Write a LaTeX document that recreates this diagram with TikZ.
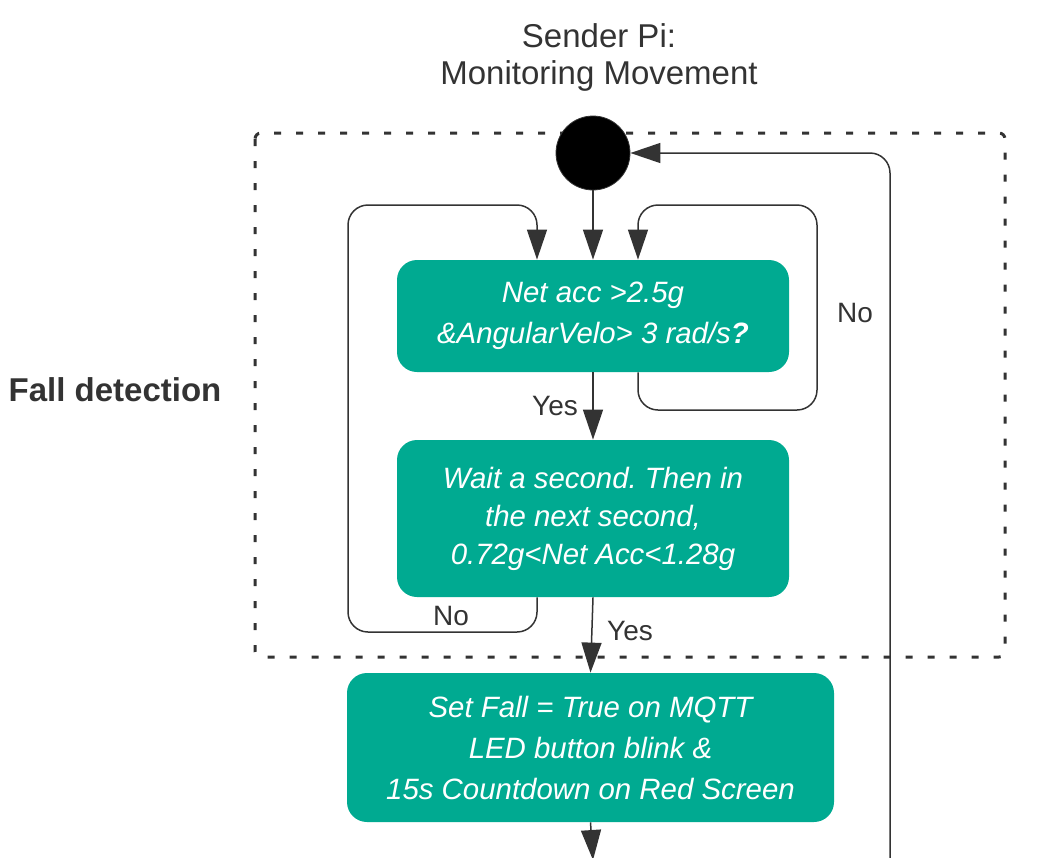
\documentclass[tikz,border=0pt]{standalone}
\usepackage{fontspec}
\setmainfont{Liberation Sans}
\usetikzlibrary{arrows.meta}
\definecolor{teal}{RGB}{0,170,145}
\definecolor{ink}{RGB}{51,51,51}
\frenchspacing

\begin{document}
\begin{tikzpicture}[x=0.5pt,y=-0.5pt,
  box/.style={fill=teal,rounded corners=10pt,text=white,align=center,
    font=\fontsize{14.7pt}{20.5pt}\selectfont\itshape},
  flow/.style={draw=ink,line width=0.75pt,-{Triangle[length=15pt,width=10pt]}},
  lbl/.style={text=ink,font=\fontsize{14pt}{16pt}\selectfont,inner sep=0pt}]
\useasboundingbox (0,0) rectangle (1059,857);
% title and region
\node[text=ink,align=center,font=\fontsize{16.5pt}{18.5pt}\selectfont] (title) at (599,57) {Sender Pi:\\Monitoring Movement};
\node[text=ink,font=\fontsize{16.5pt}{18pt}\selectfont\bfseries] (region) at (115,390) {Fall detection};
\draw[ink,line width=1.5pt,dash pattern=on 3.5pt off 7.5pt,rounded corners=3pt] (255,133) rectangle (1005,657);
% states
\node[circle,fill=black,draw=ink,minimum size=37pt,inner sep=0pt] (start) at (593,153) {};
\node[box,minimum width=196pt,minimum height=56pt] (q1) at (593,316) {Net acc >2.5g\\\&AngularVelo> 3 rad/s\textbf{?}};
\node[box,minimum width=196pt,minimum height=78.5pt,font=\fontsize{14.7pt}{19pt}\selectfont\itshape] (q2) at (593,518.5) {Wait a second. Then in\\the next second,\\0.72g<Net Acc<1.28g};
\node[box,minimum width=243.5pt,minimum height=74.5pt] (act) at (590.5,747.5) {Set Fall = True on MQTT\\LED button blink \&\\15s Countdown on Red Screen};
\coordinate (next) at (593,860);
\coordinate (back) at (890,860);
% connectors
\draw[flow] (start.south) -- (q1.north);
\draw[flow,rounded corners=10pt] ([xshift=-28pt]q2.south) |- (348,632) |- (537,205) -- ([xshift=-28pt]q1.north);
\draw[flow,rounded corners=10pt] ([xshift=22.5pt]q1.south) |- (817,410) |- (638,205) -- ([xshift=22.5pt]q1.north);
\draw[flow] (q1.south) -- (q2.north);
\draw[flow] (q2.south) -- (act.north);
\draw[flow] (act.south) -- (next);
\draw[flow,rounded corners=10pt] (back) |- (start.east);
% labels
\node[lbl] (yes1) at (555,406) {Yes};
\node[lbl] (yes2) at (630,631) {Yes};
\node[lbl] (no1) at (451,616) {No};
\node[lbl] (no2) at (855,313) {No};
\end{tikzpicture}
\end{document}
